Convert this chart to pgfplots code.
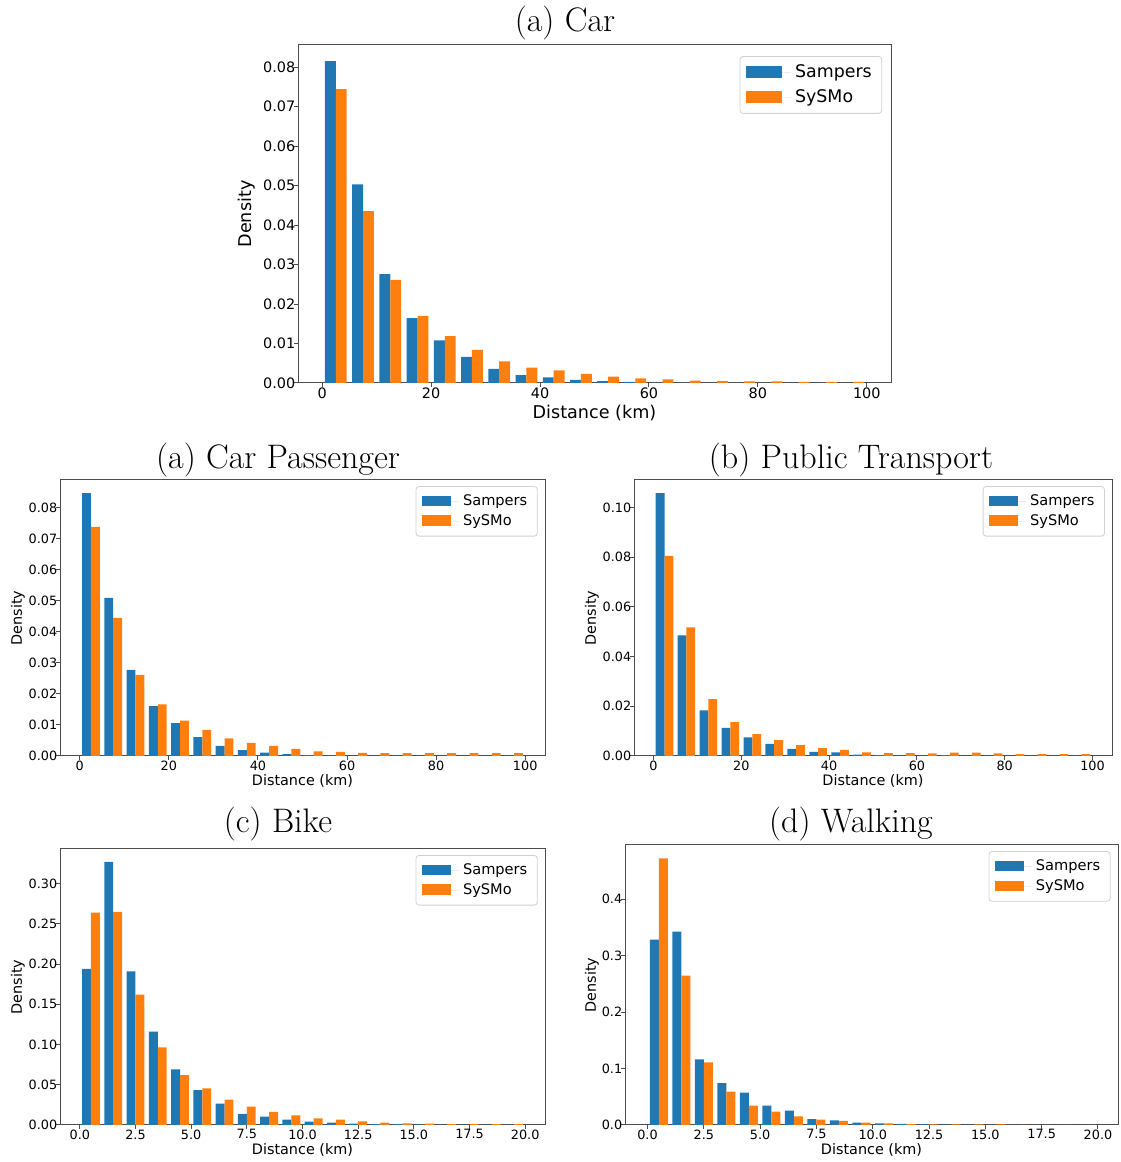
\documentclass[border=0pt]{standalone}
\usepackage{fontspec}
\usepackage{pgfplots}
\usepackage{pgfplotstable}
\pgfplotsset{compat=1.18}
\newfontfamily\dv{DejaVu Sans}
\definecolor{cA}{HTML}{1F77B4}
\definecolor{cB}{HTML}{FF7F0E}

\pgfplotstableread{
x s y
2.5 0.0815 0.0744
7.5 0.0503 0.0435
12.5 0.0276 0.0261
17.5 0.0164 0.0170
22.5 0.0108 0.0119
27.5 0.0066 0.0084
32.5 0.0036 0.0055
37.5 0.0020 0.0039
42.5 0.0014 0.0032
47.5 0.0008 0.0023
52.5 0.0005 0.0016
57.5 0.0003 0.0012
62.5 0.0001 0.0009
67.5 0.0001 0.0006
72.5 0.0000 0.0005
77.5 0.0000 0.0004
82.5 0.0000 0.0004
87.5 0.0000 0.0003
92.5 0.0000 0.0003
97.5 0.0000 0.0003
}\carTab

\pgfplotstableread{
x s y
2.5 0.0847 0.0738
7.5 0.0509 0.0445
12.5 0.0277 0.0261
17.5 0.0161 0.0166
22.5 0.0106 0.0114
27.5 0.0061 0.0084
32.5 0.0033 0.0057
37.5 0.0019 0.0042
42.5 0.0011 0.0033
47.5 0.0006 0.0023
52.5 0.0003 0.0015
57.5 0.0001 0.0013
62.5 0.0000 0.0010
67.5 0.0000 0.0009
72.5 0.0000 0.0009
77.5 0.0000 0.0009
82.5 0.0000 0.0009
87.5 0.0000 0.0009
92.5 0.0000 0.0009
97.5 0.0000 0.0009
}\paxTab

\pgfplotstableread{
x s y
2.5 0.1057 0.0805
7.5 0.0485 0.0517
12.5 0.0183 0.0229
17.5 0.0113 0.0136
22.5 0.0075 0.0088
27.5 0.0049 0.0064
32.5 0.0029 0.0044
37.5 0.0017 0.0032
42.5 0.0015 0.0025
47.5 0.0006 0.0015
52.5 0.0003 0.0012
57.5 0.0001 0.0012
62.5 0.0001 0.0011
67.5 0.0003 0.0014
72.5 0.0000 0.0014
77.5 0.0000 0.0011
82.5 0.0000 0.0008
87.5 0.0000 0.0008
92.5 0.0000 0.0008
97.5 0.0000 0.0008
}\ptTab

\pgfplotstableread{
x s y
0.5 0.194 0.264
1.5 0.327 0.265
2.5 0.191 0.162
3.5 0.116 0.0965
4.5 0.069 0.0621
5.5 0.0435 0.0456
6.5 0.0265 0.0315
7.5 0.0137 0.0228
8.5 0.0104 0.0162
9.5 0.0066 0.0120
10.5 0.0041 0.0083
11.5 0.0029 0.0066
12.5 0.0016 0.0046
13.5 0.0012 0.0029
14.5 0.0012 0.0021
15.5 0.0005 0.0018
16.5 0.0003 0.0012
17.5 0.0002 0.0010
18.5 0.0001 0.0010
19.5 0.0001 0.0010
}\bikeTab

\pgfplotstableread{
x s y
0.5 0.3286 0.4726
1.5 0.3428 0.2649
2.5 0.1162 0.1109
3.5 0.0743 0.0590
4.5 0.0572 0.0342
5.5 0.0342 0.0236
6.5 0.0254 0.0153
7.5 0.0106 0.0094
8.5 0.0083 0.0071
9.5 0.0041 0.0041
10.5 0.0030 0.0030
11.5 0.0018 0.0015
12.5 0.0010 0.0012
13.5 0.0005 0.0010
14.5 0.0003 0.0010
15.5 0.0002 0.0010
16.5 0.0000 0.0000
17.5 0.0000 0.0000
18.5 0.0000 0.0000
19.5 0.0000 0.0000
}\walkTab

\pgfplotsset{
  hist/.style={
    scale only axis, ybar, ymin=0,
    axis line style={black!70, line width=0.5pt},
    tick align=outside, tick pos=left, major tick length=1.8pt,
    every tick/.style={black!70, line width=0.5pt},
    /pgf/number format/assume math mode=true,
    scaled y ticks=false, scaled x ticks=false,
    legend cell align=left,
    legend style={anchor=north east, draw=black!18,
      rounded corners=1.5pt, inner xsep=3pt, inner ysep=2pt},
    yticklabel style={inner xsep=0pt, xshift=0.6pt},
    xticklabel style={inner ysep=0pt, yshift=-0.3pt},
    xlabel={Distance (km)}, ylabel={Density},
    every axis x label/.style={at={(axis description cs:0.5,0)}, anchor=base},
    clip=false,
  },
  big/.style={
    tick label style={font=\dv\fontsize{7.2}{8}\selectfont},
    label style={font=\dv\fontsize{8.8}{10}\selectfont},
    legend style={at={(0.985,0.967)}, font=\dv\fontsize{8.7}{10}\selectfont, row sep=0.5pt},
    legend image code/.code={\fill[##1, sharp corners] (0pt,-2.6pt) rectangle (18pt,3.4pt); \path (0pt,0pt) -- (22.5pt,0pt);},
    xlabel style={yshift=-18pt},
  },
  small/.style={
    tick label style={font=\dv\fontsize{6.4}{7}\selectfont},
    label style={font=\dv\fontsize{7.2}{8}\selectfont},
    legend style={at={(0.985,0.978)}, font=\dv\fontsize{7.3}{8}\selectfont, row sep=-1pt},
    legend image code/.code={\fill[##1, sharp corners] (0pt,-2.2pt) rectangle (14.5pt,2.9pt); \path (0pt,0pt) -- (18.5pt,0pt);},
    xlabel style={yshift=-15pt},
  },
  fmtA/.style={yticklabel style={/pgf/number format/.cd, fixed, fixed zerofill, precision=2}},
  fmtB/.style={yticklabel style={/pgf/number format/.cd, fixed, fixed zerofill, precision=1},
               xticklabel style={/pgf/number format/.cd, fixed, fixed zerofill, precision=1}},
  ylab/.style={ylabel style={at={(axis description cs:#1,0.5)}, rotate=0, anchor=center}},
}

\begin{document}
\begin{tikzpicture}
\useasboundingbox (0,0) rectangle (560pt,581pt);

% titles
\node[font=\fontsize{17}{20}\selectfont] at (282.5pt,569.5pt) {(a) Car};
\node[font=\fontsize{17}{20}\selectfont] at (139pt,351pt) {(a) Car Passenger};
\node[font=\fontsize{17}{20}\selectfont] at (425.5pt,351pt) {(b) Public Transport};
\node[font=\fontsize{17}{20}\selectfont] at (139pt,169pt) {(c) Bike};
\node[font=\fontsize{17}{20}\selectfont] at (425.5pt,169pt) {(d) Walking};

% (a) Car
\begin{axis}[hist, big, fmtA, ylab=-0.086, at={(149pt,389.5pt)}, anchor=south west,
  width=296.5pt, height=169pt, xmin=-4.45, xmax=104.45, ymax=0.0856,
  bar width=2, xtick={0,20,40,60,80,100},
  ytick={0,0.01,0.02,0.03,0.04,0.05,0.06,0.07,0.08}]
\addplot[fill=cA, draw=none, bar shift=-1] table[x=x,y=s]{\carTab};
\addplot[fill=cB, draw=none, bar shift=1] table[x=x,y=y]{\carTab};
\legend{Sampers,SySMo}
\end{axis}

% (a) Car Passenger
\begin{axis}[hist, small, fmtA, ylab=-0.0866, at={(30pt,203pt)}, anchor=south west,
  width=242.5pt, height=138pt, xmin=-4.45, xmax=104.45, ymax=0.0889,
  bar width=2, xtick={0,20,40,60,80,100},
  ytick={0,0.01,0.02,0.03,0.04,0.05,0.06,0.07,0.08}]
\addplot[fill=cA, draw=none, bar shift=-1] table[x=x,y=s]{\paxTab};
\addplot[fill=cB, draw=none, bar shift=1] table[x=x,y=y]{\paxTab};
\legend{Sampers,SySMo}
\end{axis}

% (b) Public Transport
\begin{axis}[hist, small, fmtA, ylab=-0.0879, at={(317pt,203pt)}, anchor=south west,
  width=239pt, height=138pt, xmin=-4.45, xmax=104.45, ymax=0.111,
  bar width=2, xtick={0,20,40,60,80,100},
  ytick={0,0.02,0.04,0.06,0.08,0.10}]
\addplot[fill=cA, draw=none, bar shift=-1] table[x=x,y=s]{\ptTab};
\addplot[fill=cB, draw=none, bar shift=1] table[x=x,y=y]{\ptTab};
\legend{Sampers,SySMo}
\end{axis}

% (c) Bike
\begin{axis}[hist, small, fmtA, ylab=-0.0866, at={(30pt,18.5pt)}, anchor=south west,
  width=242.5pt, height=138pt, xmin=-0.89, xmax=20.89, ymax=0.3431,
  bar width=0.4, xtick={0,2.5,5,7.5,10,12.5,15,17.5,20},
  xticklabel style={/pgf/number format/.cd, fixed, fixed zerofill, precision=1},
  ytick={0,0.05,0.10,0.15,0.20,0.25,0.30}]
\addplot[fill=cA, draw=none, bar shift=-0.2] table[x=x,y=s]{\bikeTab};
\addplot[fill=cB, draw=none, bar shift=0.2] table[x=x,y=y]{\bikeTab};
\legend{Sampers,SySMo}
\end{axis}

% (d) Walking
\begin{axis}[hist, small, fmtB, ylab=-0.067, at={(312.5pt,18.5pt)}, anchor=south west,
  width=246.5pt, height=140pt, xmin=-1.0, xmax=20.89, ymax=0.4962,
  bar width=0.4, xtick={0,2.5,5,7.5,10,12.5,15,17.5,20},
  ytick={0,0.1,0.2,0.3,0.4}]
\addplot[fill=cA, draw=none, bar shift=-0.2] table[x=x,y=s]{\walkTab};
\addplot[fill=cB, draw=none, bar shift=0.2] table[x=x,y=y]{\walkTab};
\legend{Sampers,SySMo}
\end{axis}
\end{tikzpicture}
\end{document}
